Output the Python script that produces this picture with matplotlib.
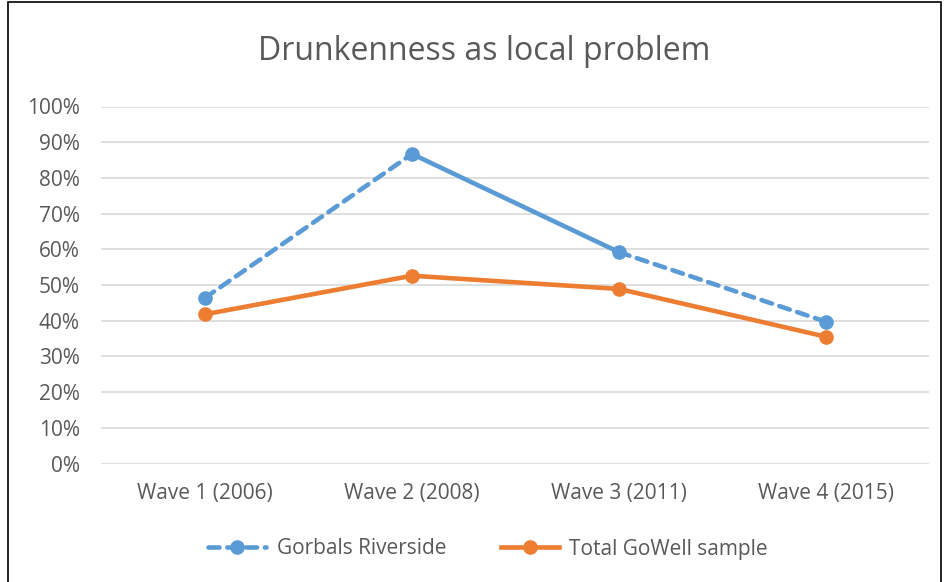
import matplotlib.pyplot as plt
from matplotlib.lines import Line2D
from matplotlib.patches import Rectangle
import numpy as np

plt.rcParams['font.family'] = ['Open Sans', 'DejaVu Sans']

waves = ["Wave 1 (2006)", "Wave 2 (2008)", "Wave 3 (2011)", "Wave 4 (2015)"]
gorbals = [0.464, 0.867, 0.592, 0.397]
total = [0.418, 0.526, 0.489, 0.355]
# line style of each Gorbals segment (wave i -> wave i+1)
gorbals_styles = ["dashed", "solid", "dashed"]

blue = "#5B9BD5"
orange = "#ED7D31"
grey_text = "#595959"

fig = plt.figure(figsize=(9.45, 5.82), dpi=100)
ax = fig.add_axes([101.5 / 945, 1 - 463.5 / 582, 828 / 945, 357 / 582])

x = np.arange(len(waves))

# Total GoWell
ax.plot(x, total, color=orange, lw=3.3, marker="o", ms=9.5,
        solid_capstyle="round", zorder=3)

# Gorbals, segment by segment
for i, ls in enumerate(gorbals_styles):
    ax.plot(x[i:i + 2], gorbals[i:i + 2], color=blue, lw=3.3, ls=ls,
            dashes=(2.4, 1.7) if ls == "dashed" else (None, None),
            dash_capstyle="round", solid_capstyle="round", zorder=4)
ax.plot(x, gorbals, ls="none", marker="o", ms=9.5, color=blue, zorder=5)

ax.set_xlim(-0.5, 3.5)
ax.set_ylim(0, 1)
ax.set_yticks(np.arange(0, 1.01, 0.1))
ax.set_yticklabels([f"{int(round(v * 100))}%" for v in np.arange(0, 1.01, 0.1)])
ax.set_xticks(x)
ax.set_xticklabels(waves)
ax.tick_params(axis="both", length=0, labelsize=15, colors=grey_text)
ax.tick_params(axis="y", pad=15.5)
ax.tick_params(axis="x", pad=14)
ax.grid(axis="y", color="#D9D9D9", lw=1.2)
ax.set_axisbelow(True)
for s in ax.spines.values():
    s.set_visible(False)

fig.text(484 / 945, 1 - 51 / 582, "Drunkenness as local problem",
         ha="center", va="center", fontsize=23, color=grey_text)

handles = [
    Line2D([], [], color=blue, lw=3.3, ls="--", dashes=(2.4, 1.7),
           dash_capstyle="round", marker="o", ms=9.5),
    Line2D([], [], color=orange, lw=3.3, marker="o", ms=9.5),
]
fig.legend(handles, ["Gorbals Riverside", "Total GoWell sample"],
           loc="center", bbox_to_anchor=(488 / 945, 1 - 549 / 582), ncol=2,
           frameon=False, fontsize=15, labelcolor=grey_text,
           handlelength=2.8, columnspacing=2.6, handletextpad=0.5)

fig.add_artist(Rectangle((8 / 945, -0.01), 933 / 945, 1 - 2 / 582 + 0.01,
                         transform=fig.transFigure, fill=False,
                         edgecolor="black", lw=1.2))

fig.savefig("out.png", dpi=100)
